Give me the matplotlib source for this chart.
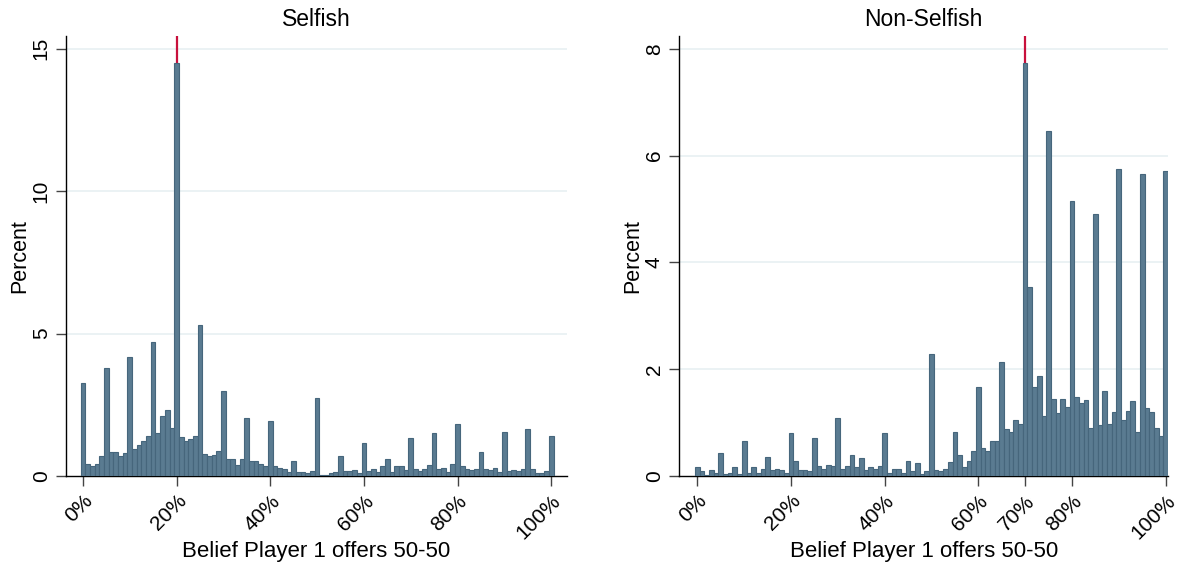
import numpy as np
import matplotlib
matplotlib.use("Agg")
import matplotlib.pyplot as plt

plt.rcParams['font.family'] = ['Liberation Sans', 'DejaVu Sans']

# belief values 0..100, percent of answers in each bin
beliefs = list(range(101))

selfish = [3.26, 0.42, 0.35, 0.41, 0.69, 3.78, 0.83, 0.83, 0.70, 0.80,
           4.17, 0.95, 1.08, 1.22, 1.41, 4.71, 1.50, 2.11, 2.30, 1.67,
           14.50, 1.36, 1.24, 1.29, 1.41, 5.29, 0.77, 0.70, 0.73, 0.89,
           2.97, 0.59, 0.60, 0.37, 0.59, 2.03, 0.52, 0.52, 0.42, 0.35,
           1.93, 0.35, 0.27, 0.23, 0.15, 0.52, 0.15, 0.15, 0.09, 0.19,
           2.73, 0.04, 0.04, 0.09, 0.14, 0.71, 0.18, 0.18, 0.21, 0.09,
           1.15, 0.18, 0.26, 0.14, 0.35, 0.61, 0.14, 0.35, 0.35, 0.21,
           1.33, 0.25, 0.16, 0.26, 0.39, 1.50, 0.25, 0.28, 0.14, 0.43,
           1.83, 0.35, 0.26, 0.21, 0.25, 0.84, 0.25, 0.21, 0.28, 0.14,
           1.55, 0.18, 0.21, 0.18, 0.25, 1.65, 0.26, 0.09, 0.09, 0.18,
           1.42]

non_selfish = [0.16, 0.09, 0.02, 0.11, 0.06, 0.43, 0.04, 0.06, 0.16, 0.04,
               0.65, 0.06, 0.16, 0.06, 0.13, 0.36, 0.11, 0.13, 0.11, 0.06,
               0.80, 0.28, 0.11, 0.11, 0.09, 0.71, 0.19, 0.13, 0.21, 0.19,
               1.08, 0.13, 0.19, 0.39, 0.17, 0.33, 0.11, 0.16, 0.13, 0.19,
               0.80, 0.06, 0.13, 0.13, 0.06, 0.28, 0.09, 0.24, 0.04, 0.09,
               2.29, 0.11, 0.09, 0.13, 0.26, 0.82, 0.39, 0.16, 0.28, 0.46,
               1.66, 0.53, 0.46, 0.65, 0.65, 2.13, 0.88, 0.82, 1.04, 0.97,
               7.74, 3.54, 1.66, 1.87, 1.12, 6.46, 1.44, 1.18, 1.44, 1.29,
               5.15, 1.48, 1.36, 1.42, 0.90, 4.91, 0.95, 1.59, 0.97, 1.19,
               5.74, 1.04, 1.21, 1.40, 0.82, 5.66, 1.27, 1.19, 0.90, 0.74,
               5.71]

panels = [
    dict(title="Selfish", values=selfish, mode=20,
         yticks=[0, 5, 10, 15], ytop=15.45,
         xticks=[0, 20, 40, 60, 80, 100], xlim=(-3.6, 103.4),
         rect=[0.056, 0.1605, 0.425, 0.776]),
    dict(title="Non-Selfish", values=non_selfish, mode=70,
         yticks=[0, 2, 4, 6, 8], ytop=8.24,
         xticks=[0, 20, 40, 60, 70, 80, 100], xlim=(-3.9, 100.6),
         rect=[0.576, 0.1605, 0.415, 0.776]),
]

fig = plt.figure(figsize=(11.79, 5.67), dpi=100)

for p in panels:
    ax = fig.add_axes(p["rect"])
    ax.bar(beliefs, p["values"], width=1.0, color="#5a7b91",
           edgecolor="#46667c", linewidth=0.8, zorder=3)
    ax.axvline(p["mode"], color="#c8103c", linewidth=1.6, zorder=2)

    ax.set_xlim(*p["xlim"])
    ax.set_ylim(0, p["ytop"])
    ax.set_yticks(p["yticks"])
    ax.set_yticklabels([str(t) for t in p["yticks"]], rotation=90, va="center")
    ax.set_xticks(p["xticks"])
    ax.set_xticklabels([f"{t}%" for t in p["xticks"]], rotation=45,
                       ha="right", rotation_mode="anchor")

    for t in p["yticks"][1:]:
        ax.axhline(t, color="#e8f0f2", linewidth=1.2, zorder=1)

    for s in ["top", "right"]:
        ax.spines[s].set_visible(False)
    for s in ["left", "bottom"]:
        ax.spines[s].set_color("black")
        ax.spines[s].set_linewidth(1.0)
    ax.tick_params(axis="both", direction="out", length=7, width=1,
                   color="#444444", labelsize=15, pad=4)

    ax.set_title(p["title"], fontsize=16.5, pad=7)
    ax.set_xlabel("Belief Player 1 offers 50-50", fontsize=16, va="center")
    ax.xaxis.set_label_coords(0.5, -0.172)
    ax.set_ylabel("Percent", fontsize=15.5, labelpad=1)

fig.savefig("out.png", dpi=100)
